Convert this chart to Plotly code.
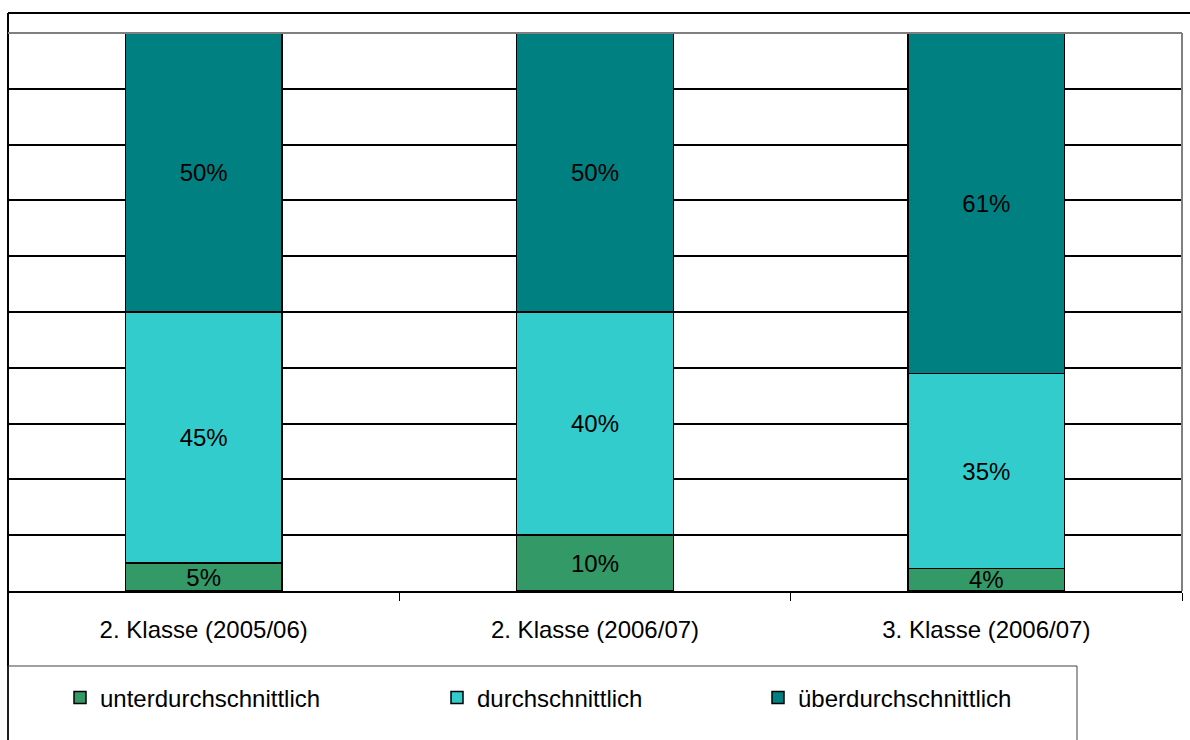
import plotly.graph_objects as go

# Categories and stacked shares (percent)
categories = ["2. Klasse (2005/06)", "2. Klasse (2006/07)", "3. Klasse (2006/07)"]
unter = [5, 10, 4]
durch = [45, 40, 35]
ueber = [50, 50, 61]
series_names = ["unterdurchschnittlich", "durchschnittlich", "überdurchschnittlich"]
series_colors = ["#339966", "#33CCCC", "#008080"]

W, H = 1190, 740
L, R, T, B = 8, 1182, 33, 591  # plot area in pixels


def px_x(px):
    return (px - L) / (R - L)


def px_y(py):
    return (B - py) / (B - T)


FONT = "Liberation Sans, Arial, sans-serif"
FS = 24

fig = go.Figure()
legend_ids = ["legend", "legend2", "legend3"]
for name, vals, color, lg in zip(series_names, [unter, durch, ueber], series_colors, legend_ids):
    fig.add_trace(go.Bar(
        x=categories,
        y=vals,
        name=name,
        legend=lg,
        showlegend=True,
        marker=dict(color=color, line=dict(color="black", width=1.5)),
        text=[f"{v}%" for v in vals],
        textposition="inside",
        insidetextanchor="middle",
        textangle=0,
        textfont=dict(family=FONT, size=FS, color="black"),
        width=0.4,
        hoverinfo="skip",
    ))

shapes = [
    # outer frame (top and left edges)
    dict(type="line", xref="paper", yref="paper", x0=px_x(8), x1=px_x(1192), y0=px_y(13), y1=px_y(13),
         line=dict(color="black", width=2)),
    dict(type="line", xref="paper", yref="paper", x0=px_x(8), x1=px_x(8), y0=px_y(13), y1=px_y(745),
         line=dict(color="black", width=2)),
    # plot area border
    dict(type="line", xref="paper", yref="paper", x0=0, x1=1, y0=1, y1=1,
         line=dict(color="#808080", width=2)),
    dict(type="line", xref="paper", yref="paper", x0=1, x1=1, y0=0, y1=1,
         line=dict(color="#808080", width=2)),
    # legend box
    dict(type="rect", xref="paper", yref="paper", x0=px_x(8), x1=px_x(1077), y0=px_y(666), y1=px_y(760),
         line=dict(color="#404040", width=1)),
]

legend_common = dict(
    orientation="h", xanchor="left", yanchor="middle",
    font=dict(family=FONT, size=FS, color="black"),
    bgcolor="rgba(0,0,0,0)", borderwidth=0,
    itemclick=False, itemdoubleclick=False,
    visible=True,
)
legend_x = [60, 437, 758]

fig.update_layout(
    width=W, height=H, autosize=False,
    showlegend=True,
    margin=dict(l=L, r=W - R, t=T, b=H - B, pad=0),
    paper_bgcolor="white", plot_bgcolor="white",
    barmode="stack",
    bargap=0.6,
    uniformtext=dict(mode="show", minsize=FS),
    font=dict(family=FONT, size=FS, color="black"),
    xaxis=dict(
        type="category", tickson="boundaries", ticks="outside", ticklen=8,
        tickcolor="black", tickwidth=1, showline=True, linecolor="black", linewidth=1.5,
        showgrid=False, ticklabelstandoff=16, tickfont=dict(family=FONT, size=FS),
        fixedrange=True,
    ),
    yaxis=dict(
        range=[0, 100], dtick=10, showgrid=True, gridcolor="black", gridwidth=1.5,
        showticklabels=False, zeroline=False, showline=False, ticks="", fixedrange=True,
    ),
    shapes=shapes,
    legend=dict(x=px_x(legend_x[0]), y=px_y(698), **legend_common),
    legend2=dict(x=px_x(legend_x[1]), y=px_y(698), **legend_common),
    legend3=dict(x=px_x(legend_x[2]), y=px_y(698), **legend_common),
)

fig.write_html("out.html", config={"displayModeBar": False})
